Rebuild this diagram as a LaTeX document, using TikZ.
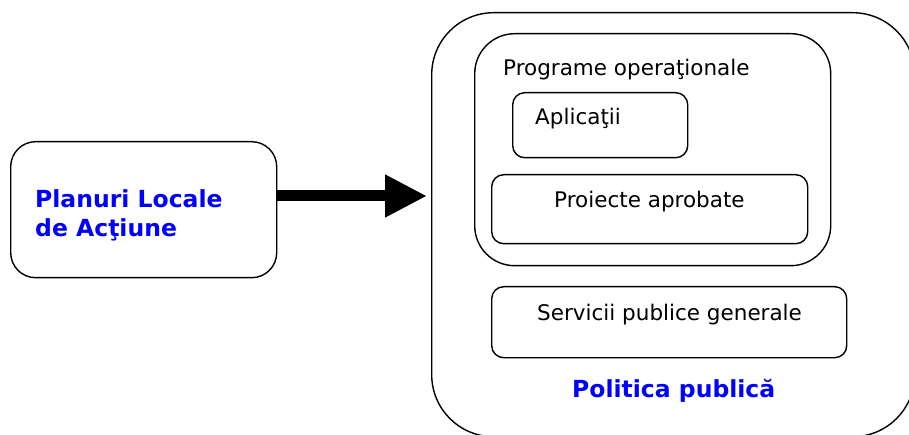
\documentclass[tikz,border=0pt]{standalone}
\usepackage{fontspec}
\setmainfont{DejaVu Sans}
\usetikzlibrary{arrows.meta,calc}
\definecolor{tblue}{RGB}{0,0,255}
\begin{document}
\begin{tikzpicture}[x=1pt,y=-1pt,
  frame/.style={draw=black, line width=1.4pt, rounded corners=#1, inner sep=0pt, anchor=north west},
  lbl/.style={anchor=base west, inner sep=0pt, font=\fontsize{21.5}{26}\selectfont},
  ttl/.style={anchor=base west, inner sep=0pt, text=tblue, font=\fontsize{23.5}{29}\selectfont\bfseries},
]
\useasboundingbox (0,0) rectangle (909,435);
\begin{scope}
\clip (0,0) rectangle (909,435);
\node[frame=62pt, minimum width=483pt, minimum height=424pt] (pol) at (431,12) {};
\end{scope}
\node[frame=40pt, minimum width=356pt, minimum height=232pt] (prog) at (474,33) {};
\node[frame=12pt, minimum width=175pt, minimum height=65pt] (apl) at (512,92) {};
\node[frame=12pt, minimum width=316pt, minimum height=69pt] (proi) at (491,174) {};
\node[frame=12pt, minimum width=355pt, minimum height=71pt] (serv) at (491,286) {};
\node[frame=25pt, minimum width=266pt, minimum height=136pt] (plan) at (10,141) {};

\node[lbl] (tprog) at (503,76) {Programe operaţionale};
\node[lbl] (tapl) at (535,125) {Aplicaţii};
\node[lbl] (tproi) at (554,208) {Proiecte aprobate};
\node[lbl] (tserv) at (537,320) {Servicii publice generale};
\node[ttl] (tpl1) at (35,208) {Planuri Locale};
\node[ttl] (tpl2) at (35,237) {de Acţiune};
\node[ttl] (tpol) at (572,397) {Politica publică};

\coordinate (ay) at (0,196);
\coordinate (tip) at ($(pol.west |- ay)+(-4,0)$);
\draw[line width=11pt, -{Triangle[length=42pt,width=40pt]}] (plan.east |- ay) -- (tip);
\end{tikzpicture}
\end{document}
